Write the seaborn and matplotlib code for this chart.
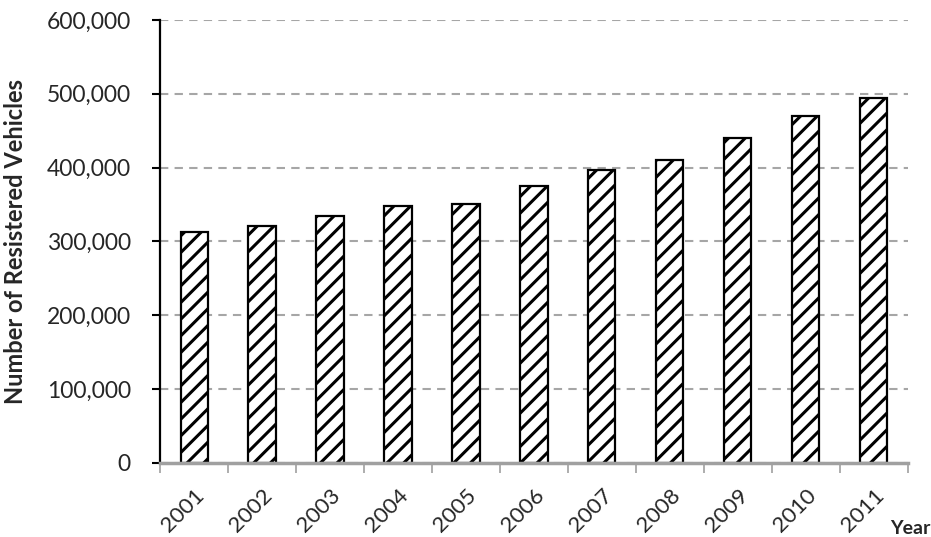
import matplotlib
matplotlib.use("Agg")
import matplotlib.pyplot as plt
import matplotlib.ticker as mticker
import seaborn as sns

# Dados
anos = ["2001", "2002", "2003", "2004", "2005", "2006",
        "2007", "2008", "2009", "2010", "2011"]
veiculos = [313000, 321000, 334500, 348000, 351000, 374500,
            397000, 410000, 440000, 469500, 494000]
y_ticks = [0, 100000, 200000, 300000, 400000, 500000, 600000]

sns.set_style("white")
plt.rcParams["font.family"] = ["Lato", "DejaVu Sans"]
plt.rcParams["hatch.linewidth"] = 2.2
plt.rcParams["hatch.color"] = "black"

fig = plt.figure(figsize=(9.31, 5.37), dpi=100)
ax = fig.add_axes([0.172, 0.138, 0.803, 0.825])

sns.barplot(x=anos, y=veiculos, color="white", edgecolor="black",
            linewidth=1.6, width=0.4, hatch="//", ax=ax, zorder=3)

# Eixo Y
ax.set_ylim(0, 600000)
ax.set_yticks(y_ticks)
ax.yaxis.set_major_formatter(mticker.FuncFormatter(lambda v, p: f"{int(v):,}"))
ax.tick_params(axis="y", direction="out", length=6, width=1.5, color="black",
               labelsize=16.5, pad=15, left=True)
ax.yaxis.grid(True, linestyle=(0, (4, 3)), color="#a6a6a6", linewidth=1.5)
ax.set_axisbelow(True)

# Eixo X
ax.set_xlim(-0.5, len(anos) - 0.5)
ax.set_xticks(range(len(anos)))
ax.set_xticklabels(anos, rotation=45, ha="right", rotation_mode="anchor")
ax.tick_params(axis="x", which="major", length=0, labelsize=16, pad=16)
ax.set_xticks([i - 0.5 for i in range(len(anos) + 1)], minor=True)
ax.tick_params(axis="x", which="minor", length=7, width=1.2, color="#a0a0a0",
               direction="out", bottom=True)

for lado in ["top", "right"]:
    ax.spines[lado].set_visible(False)
ax.spines["left"].set_color("black")
ax.spines["left"].set_linewidth(1.6)
ax.spines["bottom"].set_color("#a0a0a0")
ax.spines["bottom"].set_linewidth(2.5)
ax.spines["bottom"].set_zorder(4)

ax.set_xlabel("")
ax.set_ylabel("Number of Resistered Vehicles", fontsize=17, fontweight="bold")
ax.yaxis.set_label_coords(-0.178, 0.5)
fig.text(0.999, 0.0, "Year", ha="right", va="bottom", fontsize=14,
         fontweight="bold")

fig.savefig("out.png", dpi=100)
